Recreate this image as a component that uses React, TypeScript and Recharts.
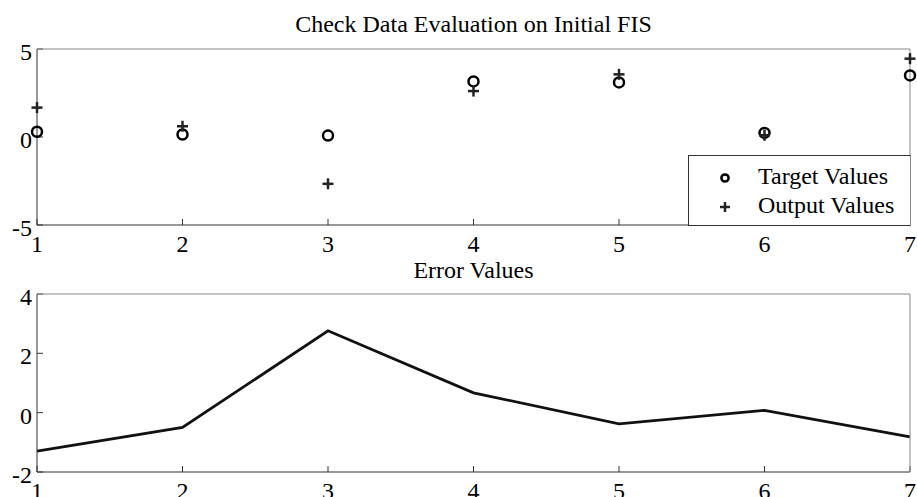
import React from 'react';
import { ComposedChart, Scatter, Line, XAxis, YAxis } from 'recharts';

const xValues = [1, 2, 3, 4, 5, 6, 7];
const targetValues = [0.3, 0.14, 0.08, 3.16, 3.1, 0.23, 3.5];
const outputValues = [1.67, 0.61, -2.66, 2.61, 3.56, 0.1, 4.45];
const errorValues = [-1.3, -0.5, 2.76, 0.67, -0.38, 0.08, -0.82];
const topYTicks = [-5, 0, 5];
const bottomYTicks = [-2, 0, 2, 4];

const FONT = '"Liberation Serif", "Times New Roman", serif';
const DARK = '#333';
const LIGHT = '#888';

const targetPts = xValues.map((x, i) => ({ x, y: targetValues[i] }));
const outputPts = xValues.map((x, i) => ({ x, y: outputValues[i] }));
const errorPts = xValues.map((x, i) => ({ x, y: errorValues[i] }));

const XTick = (props: any) => (
  <text x={props.x} y={props.y + 27} textAnchor="middle" fontFamily={FONT} fontSize={24} fill="#000">
    {props.payload.value}
  </text>
);

const YTick = (props: any) => (
  <text x={props.x} y={props.y + 2.5} dy="0.35em" textAnchor="end" fontFamily={FONT} fontSize={24} fill="#000">
    {props.payload.value}
  </text>
);

const CircleMark = (props: any) => (
  <circle cx={props.cx} cy={props.cy} r={5} fill="none" stroke="#000" strokeWidth={2.5} />
);

const PlusMark = (props: any) => (
  <g stroke="#222" strokeWidth={2.5}>
    <line x1={props.cx - 5.5} x2={props.cx + 5.5} y1={props.cy} y2={props.cy} />
    <line x1={props.cx} x2={props.cx} y1={props.cy - 5.5} y2={props.cy + 5.5} />
  </g>
);

const LegendBox = () => (
  <div style={{ position: 'absolute', left: 688, top: 155, width: 223, height: 71, border: `1px solid ${DARK}`, borderRight: `1px solid ${LIGHT}`, background: '#fff', boxSizing: 'border-box', fontFamily: FONT, fontSize: 24 }}>
    <svg width={60} height={70} style={{ position: 'absolute', left: 0, top: 0 }}>
      <circle cx={36} cy={22} r={3.6} fill="none" stroke="#000" strokeWidth={2.5} />
      <g stroke="#222" strokeWidth={2.5}>
        <line x1={31} x2={41} y1={51} y2={51} />
        <line x1={36} x2={36} y1={46} y2={56} />
      </g>
    </svg>
    <div style={{ position: 'absolute', left: 69, top: 6, lineHeight: '29px', color: '#000', whiteSpace: 'nowrap' }}>
      <div>Target Values</div>
      <div>Output Values</div>
    </div>
  </div>
);

// frame axes (top / right) with inward ticks, no labels
function frameAxes(yDomain: number[], yTicks: number[]) {
  return [
    <XAxis key="xt" xAxisId="top" orientation="top" type="number" dataKey="x" domain={[1, 7]} ticks={xValues}
      height={1} tick={false} tickSize={-6} axisLine={{ stroke: LIGHT }} tickLine={{ stroke: DARK }} />,
    <YAxis key="yr" yAxisId="right" orientation="right" type="number" dataKey="y" domain={yDomain} ticks={yTicks}
      width={7} tick={false} tickSize={-6} axisLine={{ stroke: LIGHT }} tickLine={{ stroke: DARK }} />,
  ];
}

export default function App() {
  return (
    <div style={{ position: 'absolute', left: 0, top: 0, width: 917, height: 497, overflow: 'hidden', background: '#fff' }}>
      <svg width={917} height={497} style={{ position: 'absolute', left: 0, top: 0 }}>
        <text x={473.5} y={32} textAnchor="middle" fontFamily={FONT} fontSize={24} fill="#000">
          Check Data Evaluation on Initial FIS
        </text>
        <text x={473.5} y={278} textAnchor="middle" fontFamily={FONT} fontSize={24} fill="#000">
          Error Values
        </text>
      </svg>

      <div style={{ position: 'absolute', left: 0, top: 250 }}>
        <ComposedChart width={917} height={260} data={errorPts} margin={{ top: 43, right: 0, bottom: 0, left: 0 }}>
          <XAxis type="number" dataKey="x" domain={[1, 7]} ticks={xValues} height={38}
            tick={<XTick />} tickSize={-6} tickMargin={6} axisLine={{ stroke: DARK }} tickLine={{ stroke: DARK }} />
          <YAxis type="number" dataKey="y" domain={[-2, 4]} ticks={bottomYTicks} width={37}
            tick={<YTick />} tickSize={-6} tickMargin={11} axisLine={{ stroke: DARK }} tickLine={{ stroke: DARK }} />
          {frameAxes([-2, 4], bottomYTicks)}
          <Line type="linear" dataKey="y" stroke="#111" strokeWidth={2.8} dot={false} isAnimationActive={false} />
        </ComposedChart>
      </div>

      <div style={{ position: 'absolute', left: 0, top: 0 }}>
        <ComposedChart width={917} height={262} margin={{ top: 48, right: 0, bottom: 0, left: 0 }}>
          <XAxis type="number" dataKey="x" domain={[1, 7]} ticks={xValues} height={37}
            tick={<XTick />} tickSize={-6} tickMargin={6} axisLine={{ stroke: DARK }} tickLine={{ stroke: DARK }} />
          <YAxis type="number" dataKey="y" domain={[-5, 5]} ticks={topYTicks} width={37}
            tick={<YTick />} tickSize={-6} tickMargin={11} axisLine={{ stroke: DARK }} tickLine={{ stroke: DARK }} />
          {frameAxes([-5, 5], topYTicks)}
          <Scatter name="Target Values" data={targetPts} shape={<CircleMark />} isAnimationActive={false} />
          <Scatter name="Output Values" data={outputPts} shape={<PlusMark />} isAnimationActive={false} />
        </ComposedChart>
      </div>

      <LegendBox />
    </div>
  );
}
